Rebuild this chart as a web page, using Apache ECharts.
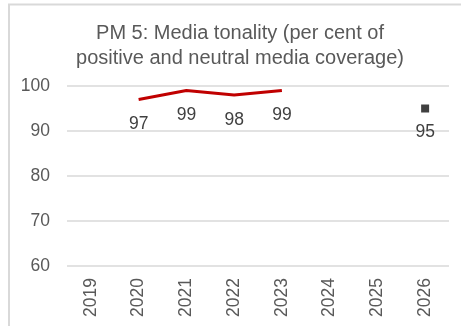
<!DOCTYPE html>
<html>
<head>
<meta charset="utf-8">
<script src="https://cdn.jsdelivr.net/npm/echarts@6/dist/echarts.min.js"></script>
<style>html,body{margin:0;padding:0;background:#fff;}#c{width:461px;height:326px;}</style>
</head>
<body>
<div id="c"></div>
<script>
var titleText = 'PM 5: Media tonality (per cent of\npositive and neutral media coverage)';
var categories = ['2019','2020','2021','2022','2023','2024','2025','2026'];
var actualValues = [null, 97, 99, 98, 99, null, null, null];
var targetValues = [null, null, null, null, null, null, null, 95];
var yTicks = [60, 70, 80, 90, 100];

var chart = echarts.init(document.getElementById('c'), null, {renderer: 'canvas'});
var font = 'Liberation Sans, Arial, sans-serif';
chart.setOption({
  animation: false,
  backgroundColor: '#fff',
  graphic: [
    {type: 'line', shape: {x1: 8, y1: 4.5, x2: 461, y2: 4.5}, style: {stroke: '#d9d9d9', lineWidth: 2}},
    {type: 'line', shape: {x1: 9, y1: 4, x2: 9, y2: 326}, style: {stroke: '#d9d9d9', lineWidth: 2}}
  ],
  title: {
    text: titleText,
    left: 235, top: 16, textAlign: 'center',
    textStyle: {fontFamily: font, fontSize: 20, fontWeight: 'normal', color: '#595959', lineHeight: 25}
  },
  grid: {left: 67, right: 12, top: 86, bottom: 60},
  xAxis: {
    type: 'category', data: categories, boundaryGap: true,
    axisLine: {show: false}, axisTick: {show: false},
    axisLabel: {rotate: 90, fontFamily: font, fontSize: 17.5, color: '#595959', margin: 12}
  },
  yAxis: {
    type: 'value', min: yTicks[0], max: yTicks[yTicks.length-1], interval: 10,
    axisLine: {show: false}, axisTick: {show: false},
    axisLabel: {fontFamily: font, fontSize: 17.5, color: '#595959', margin: 17},
    splitLine: {lineStyle: {color: '#d9d9d9', width: 1.5}}
  },
  series: [
    {
      type: 'line', data: actualValues, symbol: 'circle', symbolSize: 0.1, showAllSymbol: true, connectNulls: false,
      itemStyle: {color: '#c00000', opacity: 0},
      lineStyle: {color: '#c00000', width: 3, opacity: 1},
      label: {show: true, position: 'bottom', distance: 16, fontFamily: font, fontSize: 17.5, color: '#404040', opacity: 1}
    },
    {
      type: 'line', data: targetValues, symbol: 'rect', symbolSize: 8, showAllSymbol: true,
      itemStyle: {color: '#404040'}, lineStyle: {width: 0},
      label: {show: true, position: 'bottom', distance: 11, fontFamily: font, fontSize: 17.5, color: '#404040'}
    }
  ]
});
</script>
</body>
</html>
